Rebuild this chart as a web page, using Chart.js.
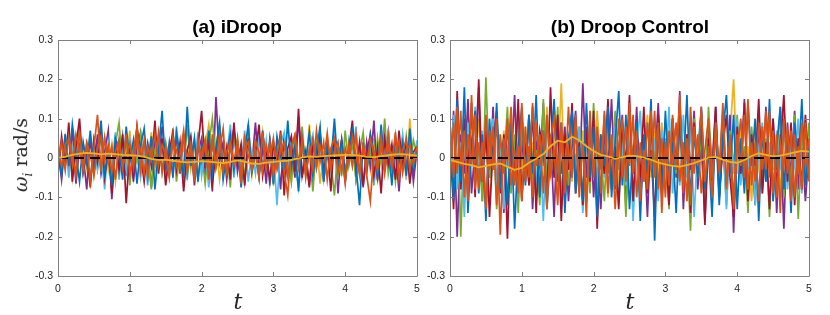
<!DOCTYPE html>
<html>
<head>
<meta charset="utf-8">
<script src="https://cdn.jsdelivr.net/npm/chart.js@4"></script>
<style>
  body { margin: 0; background: #fff; }
  #wrap { position: relative; width: 830px; height: 315px; overflow: hidden; background: #fff; }
  canvas { position: absolute; top: 0; }
  .title { position: absolute; top: 16px; font: bold 19px "Liberation Sans", Arial, sans-serif; color: #000; transform: translateX(-50%); white-space: nowrap; }
  .xlab { position: absolute; top: 289px; font: italic 22px "DejaVu Serif", serif; color: #262626; transform: translateX(-50%); }
  .ylab { position: absolute; left: 22px; top: 155px; font: 19px "DejaVu Serif", serif; color: #262626; transform: translate(-50%, -50%) rotate(-90deg); white-space: nowrap; }
  .ylab sub { font-size: 12px; }
</style>
</head>
<body>
<div id="wrap">
  <canvas id="chartA" width="430" height="315" style="left:0px"></canvas>
  <canvas id="chartB" width="420" height="315" style="left:410px"></canvas>
  <div class="title" style="left:237px">(a) iDroop</div>
  <div class="title" style="left:630px">(b) Droop Control</div>
  <div class="xlab" style="left:238px">t</div>
  <div class="xlab" style="left:630px">t</div>
  <div class="ylab"><i>ω<sub>i</sub></i> rad/s</div>
</div>
<script>
// frequency deviations, values in 1e-3 rad/s, sampled evenly over t = 0..5
const a_orange = [12,-20,35,48,-15,60,22,-30,40,10,-45,25,55,-10,30,-35,15,45,-20,5,
  38,-25,50,18,-40,28,-5,62,-18,33,8,-50,42,20,-28,55,-12,36,-38,24,
  10,48,-22,30,-8,58,-33,16,40,-15,27,-42,52,6,-24,44,14,-36,31,-9,
  50,-28,22,38,-46,19,57,-14,34,-30,11,46,-20,29,-4,63,-26,17,41,-35,
  25,-12,53,8,-40,36,-18,47,12,-31,28,-7,59,-23,15,43,-38,21,33,-16,30];
const a_orange2 = [-15,40,-30,55,5,-45,70,-20,35,-60,25,110,-35,50,-10,30,-55,45,-25,60,
  -40,15,80,-30,45,-50,20,-15,65,-35,30,-45,55,-20,10,70,-40,25,-60,45,
  -10,35,-55,60,-25,20,75,-45,30,-15,50,-65,25,40,-30,15,-50,65,-20,35,
  -45,10,55,-35,-95,30,60,-25,45,-50,20,-30,70,-10,40,-55,25,50,-40,15,
  -65,35,-20,60,-35,25,-45,-110,15,-25,55,-40,30,-15,65,-50,20,45,-30,10,-5];
const a_blue = [30,-45,60,-20,85,10,-60,40,-15,70,-35,20,95,-40,15,-70,50,25,-55,80,
  -10,45,-65,30,75,-25,55,-80,20,120,-30,40,-50,65,5,-45,130,-20,50,-60,
  35,-15,70,-40,25,90,-55,10,60,-30,45,-75,20,85,-35,15,-50,70,-20,40,
  -65,55,5,-40,95,-25,30,-85,50,-10,65,-45,20,80,-60,35,-15,100,-30,45,
  -55,25,70,-20,-120,40,-35,60,15,-50,85,-25,30,-70,55,-10,40,-45,75,-30,20];
const a_darkred = [-40,55,-20,90,-60,30,100,-35,15,-75,45,-10,70,-50,20,-90,40,-30,60,-115,
  25,-45,80,10,-60,35,-20,95,-40,50,-70,15,65,-30,40,-85,20,55,-45,30,
  120,-25,45,-65,10,75,-40,25,-55,90,-15,35,-70,50,-30,15,85,-45,20,-60,
  40,-20,70,-95,25,55,-35,125,-50,15,-75,40,-10,65,-40,30,-85,55,-20,45,
  -60,20,95,-30,40,-70,10,60,-45,25,-90,50,-15,35,-55,70,-25,40,-65,15,30];
const a_lightblue = [45,-25,60,-50,30,-10,70,-40,20,-65,55,-30,15,-80,40,-20,65,-55,25,-35,
  50,-15,75,-45,10,-70,35,60,-25,45,-60,20,-40,80,-10,30,-55,50,-20,65,
  -45,25,-75,40,-15,60,-35,10,85,-50,30,-20,70,-60,15,-40,55,-25,45,-70,
  20,-120,35,65,-30,50,-10,-75,40,-45,25,60,-20,35,-55,15,-35,70,-45,20,
  -60,45,-15,80,-40,30,-25,55,-65,10,40,-30,75,-50,20,-15,60,-40,35,-20,45];
const a_green = [-30,40,-15,65,-50,20,80,-35,10,-60,45,-25,70,-40,15,-55,35,90,-20,50,
  -70,25,-10,60,-45,30,-80,20,55,-35,40,-15,75,-60,10,-30,85,-25,45,-50,
  15,-65,35,100,-20,50,-40,25,-75,60,-10,30,-55,85,-35,20,-45,65,-15,40,
  -70,25,55,-30,10,-60,45,-20,80,-40,15,-85,35,60,-25,50,-10,-95,30,-45,
  70,-20,40,-55,15,65,-35,25,-70,50,-15,100,-40,20,-60,35,-25,55,-30,45,10];
const a_purple = [20,-55,45,-30,75,-65,35,10,-80,50,-25,60,-40,15,70,-105,30,-20,55,-45,
  40,-60,25,65,-35,10,-75,45,-15,80,-50,20,-30,60,-40,60,-25,35,-70,15,
  50,-45,20,-85,155,-10,40,-55,30,75,-35,15,-60,45,-20,90,-40,25,-65,50,
  -15,35,-80,60,-30,20,-50,105,-45,10,-70,40,-25,55,-60,30,-15,70,-90,45,
  -35,20,60,-50,25,-75,40,-20,95,-55,30,-10,65,-40,15,-85,50,-25,35,-60,20];
const a_yellow = [10,-35,50,-20,30,-55,15,40,-25,60,-45,20,-10,55,-30,35,-60,25,45,-15,
  70,-40,10,-50,35,-20,65,-35,15,50,-65,25,-30,45,-10,60,-45,20,-25,55,
  -40,30,85,-15,40,-55,20,-35,60,-20,45,-70,15,35,-45,25,-10,65,-30,40,
  -55,20,50,-25,10,-60,35,-15,75,-40,85,-20,45,-65,15,30,-35,55,-10,40,
  -50,25,-20,60,-45,15,35,-30,50,-60,20,-15,70,-40,30,-25,45,-55,100,-20,15];
const a_mean = [0,3,8,11,13,12,9,11,10,8,7,6,3,-2,-5,-4,-7,-9,-11,-10,
  -8,-9,-11,-13,-10,-6,-9,-14,-15,-12,-10,-8,-7,-3,1,4,3,5,6,7,
  8,8,6,3,2,5,7,9,10,8,6];

const b_orange = [-60,90,-40,120,-100,60,-20,110,-80,40,-130,70,-30,100,-195,50,-10,130,-70,30,
  -110,80,-50,140,-20,60,-90,110,-40,20,-120,90,-60,130,-30,70,-100,40,-150,120,
  -50,80,-20,110,-90,60,-130,30,100,-60,140,-40,70,-110,20,-80,120,-50,90,-140,
  40,-70,110,-30,160,-90,50,-120,80,-20,130,-60,30,-100,90,-40,120,-80,60,-130,
  20,100,-50,150,-70,40,-110,80,-30,120,-90,60,-140,100,-40,70,-100,30,-80,90,-60];
const b_orange2 = [90,-50,130,-20,70,-110,160,-80,40,-60,110,-30,80,-120,60,-40,100,-70,20,-90,
  140,-60,30,-100,90,-20,70,-130,50,100,-40,60,-90,20,-50,110,-70,40,-110,80,
  -30,60,-90,120,-40,30,-70,100,-50,80,-20,110,-100,40,-60,90,-30,120,-80,50,
  -100,70,-20,90,-60,40,-110,130,-40,60,-90,20,100,-50,70,-30,140,-70,30,-100,
  60,-20,110,-80,40,-60,90,-30,120,-50,70,-100,40,-20,80,-110,60,-40,90,-20,50];
const b_blue = [80,-110,150,-60,180,-140,40,120,-90,60,-160,100,-30,140,-80,50,-120,90,-180,30,
  130,-70,110,-40,160,-100,70,-130,20,150,-60,90,-140,50,120,-90,30,-110,140,-50,
  80,-150,60,-20,130,-100,40,170,-70,110,-130,20,90,-160,60,-40,150,-210,80,-90,
  120,-60,40,-140,100,-30,160,-110,70,-50,130,-80,20,-150,90,-120,60,160,-40,110,
  -130,50,-90,140,-20,100,-160,70,-60,150,-110,30,130,-80,60,-140,90,-30,150,-70,40];
const b_darkred = [40,-130,170,-80,100,-40,140,-100,200,-60,90,-150,30,120,-90,60,-205,80,-30,150,
  -110,40,-70,130,-140,70,20,-100,180,-50,110,-160,60,-30,140,-90,40,-120,80,-60,
  120,-180,50,-40,150,-80,30,-130,90,-20,160,-110,60,-50,130,-90,20,-150,110,-70,
  40,-120,100,-30,140,-80,60,-140,90,-40,120,-170,50,-60,130,-100,30,110,-50,-150,
  80,-40,140,-110,60,-20,150,-90,40,-130,100,-70,30,160,-60,90,-120,50,-80,110,-30];
const b_lightblue = [-30,110,-80,40,-150,90,-20,130,-60,70,-110,30,100,-90,50,-130,20,80,-40,120,
  -100,60,-30,110,-70,40,-160,90,-20,130,-80,50,-110,20,100,-60,80,-140,40,-30,
  110,-90,60,-50,130,-20,80,-120,40,-70,100,-160,30,120,-60,90,-30,50,-110,70,
  -40,130,-90,20,-70,110,-50,80,-150,30,120,-60,40,-100,90,-20,60,-130,50,-40,
  100,-70,140,-30,60,-120,20,90,-60,40,-110,70,-30,130,-80,50,-20,100,-90,40,-50];
const b_green = [60,-90,140,-200,80,-40,120,-70,30,-110,205,-50,100,-130,40,-20,130,-90,60,-140,
  90,-30,110,-60,20,-120,150,-80,50,-40,130,-100,30,-70,110,-20,80,-130,60,-90,
  140,-50,20,-110,90,-60,120,-30,70,-150,100,-40,60,-120,30,-80,110,-20,90,-100,
  50,-130,80,-40,120,-70,20,-185,100,-50,60,-110,130,-30,90,-80,40,-120,70,-20,
  110,-60,30,-140,80,-40,120,-90,50,-150,60,-30,130,-100,40,-70,110,-155,60,-40,90];
const b_purple = [-70,120,-200,60,-40,150,-90,30,180,-110,70,-50,130,-80,20,-140,90,-30,160,-100,
  50,-60,110,-130,40,-20,140,-90,60,-150,100,-40,80,-110,30,120,-70,190,-50,90,
  -100,40,-130,70,-30,150,-80,20,110,-120,60,-40,130,-90,50,-150,80,-20,140,-60,
  30,-110,100,-50,170,-130,60,-30,120,-80,40,-160,90,-20,130,-100,50,-70,110,-190,
  70,-40,150,-90,20,-120,80,-60,130,-30,100,-140,60,-180,90,-50,120,-80,40,-110,20];
const b_yellow = [20,-60,80,-30,110,-90,40,-20,100,-50,60,-120,30,90,-40,70,-100,20,-60,110,
  -30,80,-70,40,-110,60,-20,130,-50,90,-40,190,-80,30,-60,100,-20,70,-90,40,
  -50,120,-30,60,-100,20,80,-70,40,-130,90,-20,60,-80,30,110,-50,70,-40,90,
  -60,20,100,-30,80,-110,50,-20,90,-60,40,-100,70,-30,110,-50,20,-80,60,200,
  -40,90,-70,30,-110,60,-20,80,-50,100,-30,40,-90,70,-20,60,-100,30,-60,80,-40];
const b_mean = [-5,-10,-15,-18,-24,-20,-16,-14,-22,-30,-25,-12,-2,10,30,44,40,54,45,30,
  18,8,4,-2,2,6,5,1,-4,-12,-16,-20,-22,-18,-13,-6,1,3,-4,-10,
  -12,-5,5,12,8,4,6,10,14,18,16];

const xTicks = [0, 1, 2, 3, 4, 5];
const yTicks = [-0.3, -0.2, -0.1, 0, 0.1, 0.2, 0.3];

const C = {
  blue: '#0072BD', orange: '#D95319', yellow: '#EDB120', purple: '#7E2F8E',
  green: '#77AC30', lightblue: '#4DBEEE', darkred: '#A2142F'
};

function pts(vals) {
  const n = vals.length;
  return vals.map((v, i) => ({ x: i * 5 / (n - 1), y: v / 1000 }));
}

function line(vals, color, width) {
  return { data: pts(vals), borderColor: color, borderWidth: width || 1.7, pointRadius: 0, tension: 0, fill: false };
}

// MATLAB style box with inward ticks
const boxPlugin = {
  id: 'box',
  afterDraw(chart) {
    const { ctx, chartArea: a, scales: { x, y } } = chart;
    ctx.save();
    ctx.strokeStyle = '#808080';
    ctx.lineWidth = 1;
    ctx.beginPath();
    ctx.rect(Math.round(a.left) + 0.5, Math.round(a.top) + 0.5, Math.round(a.right - a.left), Math.round(a.bottom - a.top));
    xTicks.forEach(v => {
      const px = Math.round(x.getPixelForValue(v)) + 0.5;
      ctx.moveTo(px, a.bottom); ctx.lineTo(px, a.bottom - 4);
      ctx.moveTo(px, a.top); ctx.lineTo(px, a.top + 4);
    });
    yTicks.forEach(v => {
      const py = Math.round(y.getPixelForValue(v)) + 0.5;
      ctx.moveTo(a.left, py); ctx.lineTo(a.left + 4, py);
      ctx.moveTo(a.right, py); ctx.lineTo(a.right - 4, py);
    });
    ctx.stroke();
    ctx.restore();
  }
};

function makeChart(id, series, mean, pad) {
  const datasets = [
    line(mean, C.yellow, 1.8),
    { data: [{ x: 0, y: 0 }, { x: 5, y: 0 }], borderColor: '#000', borderWidth: 1.8, borderDash: [10, 6], pointRadius: 0 }
  ].concat(series);
  new Chart(document.getElementById(id), {
    type: 'line',
    data: { datasets: datasets },
    options: {
      responsive: false,
      animation: false,
      layout: { padding: pad },
      plugins: { legend: { display: false }, tooltip: { enabled: false } },
      scales: {
        x: {
          type: 'linear', min: 0, max: 5,
          afterBuildTicks: s => { s.ticks = xTicks.map(v => ({ value: v })); },
          afterFit: s => { s.height = 39; },
          grid: { display: false, drawTicks: false },
          border: { display: false },
          ticks: { padding: 7, color: '#262626', font: { family: 'Liberation Sans', size: 10.5 }, maxRotation: 0, callback: v => String(v) }
        },
        y: {
          type: 'linear', min: -0.3, max: 0.3,
          afterBuildTicks: s => { s.ticks = yTicks.map(v => ({ value: v })); },
          afterFit: s => { s.width = 40; },
          grid: { display: false, drawTicks: false },
          border: { display: false },
          ticks: { padding: 5, color: '#262626', font: { family: 'Liberation Sans', size: 10.5 }, callback: v => String(Number(v.toFixed(1))) }
        }
      }
    },
    plugins: [boxPlugin]
  });
}

makeChart('chartA', [
  line(a_orange, C.orange), line(a_orange2, C.orange), line(a_blue, C.blue), line(a_darkred, C.darkred),
  line(a_lightblue, C.lightblue), line(a_green, C.green), line(a_purple, C.purple), line(a_yellow, C.yellow)
], a_mean, { left: 18, right: 13, top: 40, bottom: 0 });

makeChart('chartB', [
  line(b_orange, C.orange), line(b_orange2, C.orange), line(b_blue, C.blue), line(b_darkred, C.darkred),
  line(b_lightblue, C.lightblue), line(b_green, C.green), line(b_purple, C.purple), line(b_yellow, C.yellow)
], b_mean, { left: 0, right: 21, top: 40, bottom: 0 });
</script>
</body>
</html>
